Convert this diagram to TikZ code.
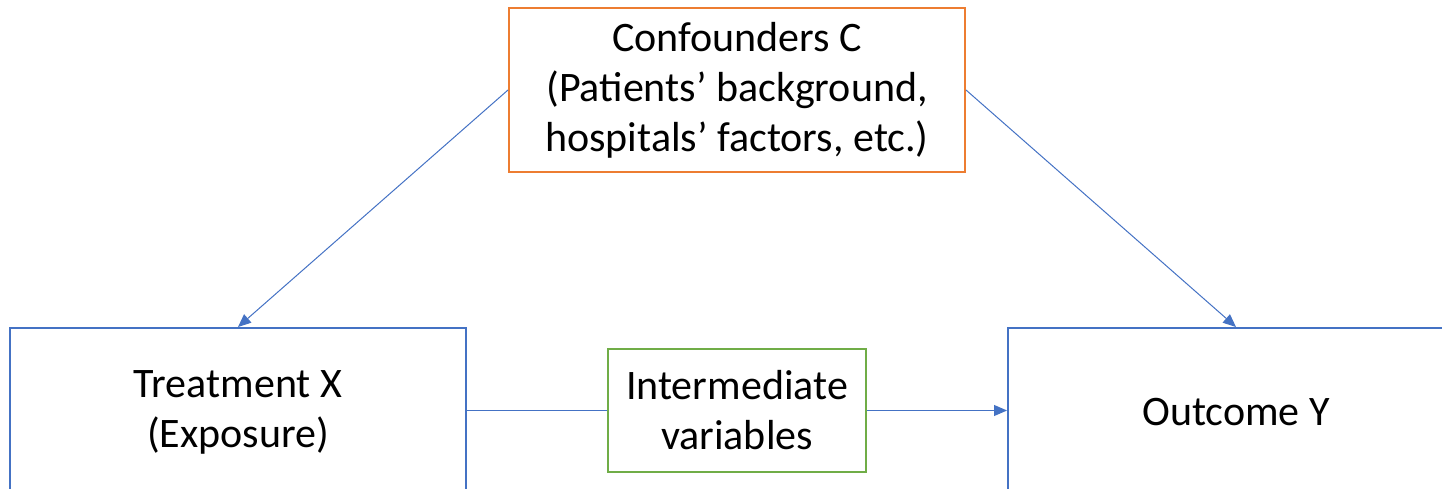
\documentclass[tikz,border=0pt]{standalone}
\usepackage{fontspec}
\setmainfont{Carlito}
\usetikzlibrary{arrows.meta}
\definecolor{cblue}{HTML}{4472C4}
\definecolor{corange}{HTML}{ED7D31}
\definecolor{cgreen}{HTML}{70AD47}
\tikzset{
  box/.style={draw, line width=2pt, fill=white, inner sep=0pt, align=center,
    font=\fontsize{42}{50}\selectfont, text=black},
  link/.style={draw=cblue, line width=1pt},
  arr/.style={link, -{Triangle[length=13pt,width=11pt]}}
}
\begin{document}
\begin{tikzpicture}[x=1pt,y=-1pt]
\useasboundingbox (0,0) rectangle (1442,489);
\clip (0,0) rectangle (1442,489);
\node[box, draw=corange, minimum width=456pt, minimum height=164pt] (conf) at (737,90)
  {Confounders C\\(Patients’ background,\\hospitals’ factors, etc.)};
\node[box, draw=cblue, minimum width=456pt, minimum height=168pt] (treat) at (238,412)
  {Treatment X\\(Exposure)};
\node[box, draw=cblue, minimum width=456pt, minimum height=168pt] (out) at (1236,412)
  {Outcome Y};
\node[box, draw=cgreen, minimum width=258pt, minimum height=123pt] (inter) at (737,410.5)
  {Intermediate\\variables};
\draw[link] (treat.east |- inter.west) -- (inter.west);
\draw[arr] (inter.east) -- (inter.east -| out.west);
\draw[arr] (conf.west) -- (treat.north);
\draw[arr] (conf.east) -- (out.north);
\end{tikzpicture}
\end{document}
